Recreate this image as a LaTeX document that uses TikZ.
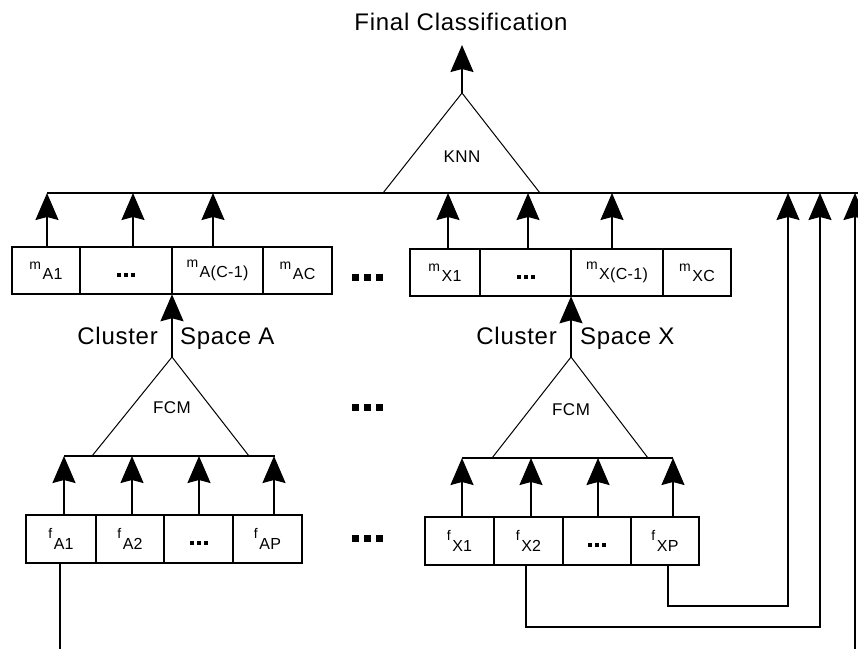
\documentclass[tikz,border=0pt]{standalone}
\usepackage{fontspec}
\setmainfont{Liberation Sans}
\usetikzlibrary{arrows.meta}
\newcommand{\lbm}[2]{{\fontsize{14}{14}\selectfont #1}\kern1.5pt\raisebox{-10pt}{\fontsize{16}{16}\selectfont\addfontfeatures{LetterSpace=2}#2}}
\newcommand{\lbf}[2]{{\fontsize{14}{14}\selectfont #1}\kern1.5pt\raisebox{-11pt}{\fontsize{16}{16}\selectfont\addfontfeatures{LetterSpace=2}#2}}
\newcommand{\celldots}{\raisebox{-4pt}[4pt][0pt]{\rule{4pt}{4pt}\hspace{3pt}\rule{4pt}{4pt}\hspace{3pt}\rule{4pt}{4pt}}}
\newcommand{\gapdots}{\rule{7pt}{7pt}\hspace{5pt}\rule{7pt}{7pt}\hspace{5pt}\rule{7pt}{7pt}}
\begin{document}
\begin{tikzpicture}[x=1pt,y=-1pt,
  ln/.style={line width=1.6pt},
  arr/.style={line width=1.6pt,-{Stealth[length=27pt,width=23pt,inset=3pt]}},
  tri/.style={line width=1pt},
  cell/.style={draw,line width=1.6pt,inner sep=0pt,outer sep=0pt,minimum height=47.5pt},
  bigt/.style={font=\fontsize{24}{28}\selectfont\addfontfeatures{LetterSpace=3},inner sep=0pt},
  midt/.style={font=\fontsize{17}{19}\selectfont\addfontfeatures{LetterSpace=3},inner sep=0pt},
  gdots/.style={inner sep=0pt}]
\useasboundingbox (0,0) rectangle (858,649);

% ---- m cells, group A
\node[cell,minimum width=68pt] (mA1)  at (46,270.5)    {\lbm{m}{A1}};
\node[cell,minimum width=92pt] (mAd)  at (126,270.5)   {\celldots};
\node[cell,minimum width=91pt] (mAC1) at (217.5,270.5) {\lbm{m}{A(C-1)}};
\node[cell,minimum width=69pt] (mAC)  at (297.5,270.5) {\lbm{m}{AC}};
% ---- m cells, group X
\node[cell,minimum width=70pt] (mX1)  at (445,272.5)   {\lbm{m}{X1}};
\node[cell,minimum width=91pt] (mXd)  at (525.5,272.5) {\celldots};
\node[cell,minimum width=92pt] (mXC1) at (617,272.5)   {\lbm{m}{X(C-1)}};
\node[cell,minimum width=68pt] (mXC)  at (697,272.5)   {\lbm{m}{XC}};
% ---- f cells, group A
\node[cell,minimum width=70pt] (fA1) at (61,539)    {\lbf{f}{A1}};
\node[cell,minimum width=68pt] (fA2) at (130,539)   {\lbf{f}{A2}};
\node[cell,minimum width=69pt] (fAd) at (198.5,539) {\celldots};
\node[cell,minimum width=69pt] (fAP) at (267.5,539) {\lbf{f}{AP}};
% ---- f cells, group X
\node[cell,minimum width=69pt] (fX1) at (459.5,541) {\lbf{f}{X1}};
\node[cell,minimum width=69pt] (fX2) at (528.5,541) {\lbf{f}{X2}};
\node[cell,minimum width=68pt] (fXd) at (597,541)   {\celldots};
\node[cell,minimum width=68pt] (fXP) at (665,541)   {\lbf{f}{XP}};

% ---- gap dots
\node[gdots] (g1) at (367,277) {\gapdots};
\node[gdots] (g2) at (367,407) {\gapdots};
\node[gdots] (g3) at (367,538) {\gapdots};

% ---- top bus and KNN
\coordinate (busL) at (47,193);
\coordinate (busR) at (858,193);
\draw[ln] (busL) -- (busR);
\coordinate (knnTop) at (462,93);
\coordinate (knnL) at (383,193);
\coordinate (knnR) at (540,193);
\draw[tri] (knnL) -- (knnTop) -- (knnR);
\node[midt] (knn) at (462,157) {KNN};
\node[bigt] (final) at (461,22) {Final Classification};
\coordinate (finTip) at (462,45);
\draw[arr] (knnTop) -- (finTip);

% ---- arrows m cells -> bus
\foreach \n/\dx in {mA1/1, mAd/7, mAC1/-4.5, mX1/3, mXd/2.5, mXC1/-5}{
  \path ([xshift=\dx pt]\n.north) coordinate (tmp);
  \draw[arr] (tmp) -- (tmp |- busL);
}

% ---- FCM A
\coordinate (fcmAtop) at (172,357);
\coordinate (fcmAL) at (92,456);
\coordinate (fcmAR) at (249,456);
\draw[tri] (fcmAL) -- (fcmAtop) -- (fcmAR);
\node[midt] (fcmA) at (172,408) {FCM};
\draw[arr] (fcmAtop) -- (mAd.south east);
\node[bigt,anchor=base east] (clA) at (158,344) {Cluster};
\node[bigt,anchor=base west] (spA) at (180,344) {Space A};
\coordinate (lbAL) at (64,456);
\coordinate (lbAR) at (275,456);
\draw[ln] (lbAL) -- (lbAR);

% ---- FCM X
\coordinate (fcmXtop) at (571,357);
\coordinate (fcmXL) at (492,458);
\coordinate (fcmXR) at (648,458);
\draw[tri] (fcmXL) -- (fcmXtop) -- (fcmXR);
\node[midt] (fcmX) at (571,410) {FCM};
\draw[arr] (fcmXtop) -- (mXd.south east);
\node[bigt,anchor=base east] (clX) at (557,344) {Cluster};
\node[bigt,anchor=base west] (spX) at (580,344) {Space X};
\coordinate (lbXL) at (462,458);
\coordinate (lbXR) at (673,458);
\draw[ln] (lbXL) -- (lbXR);

% ---- arrows f cells -> lower buses
\foreach \n/\dx in {fA1/3, fA2/2, fAd/0.5, fAP/6.5}{
  \path ([xshift=\dx pt]\n.north) coordinate (tmp);
  \draw[arr] (tmp) -- (tmp |- lbAL);
}
\foreach \n/\dx in {fX1/2.5, fX2/2.5, fXd/1, fXP/8}{
  \path ([xshift=\dx pt]\n.north) coordinate (tmp);
  \draw[arr] (tmp) -- (tmp |- lbXL);
}

% ---- feature feeds to top bus
\path ([xshift=-1pt]fA1.south) coordinate (a1s);
\coordinate (botA) at (60,649);
\draw[ln] (a1s) -- (botA);
\coordinate (botR) at (855,649);
\draw[arr] (botR) -- (botR |- busL);
\path ([xshift=-2.5pt]fX2.south) coordinate (x2s);
\coordinate (rowX2) at (820,627);
\draw[arr] (x2s) |- (rowX2) -- (rowX2 |- busL);
\path ([xshift=3pt]fXP.south) coordinate (xps);
\coordinate (rowXP) at (788,606);
\draw[arr] (xps) |- (rowXP) -- (rowXP |- busL);
\end{tikzpicture}
\end{document}
